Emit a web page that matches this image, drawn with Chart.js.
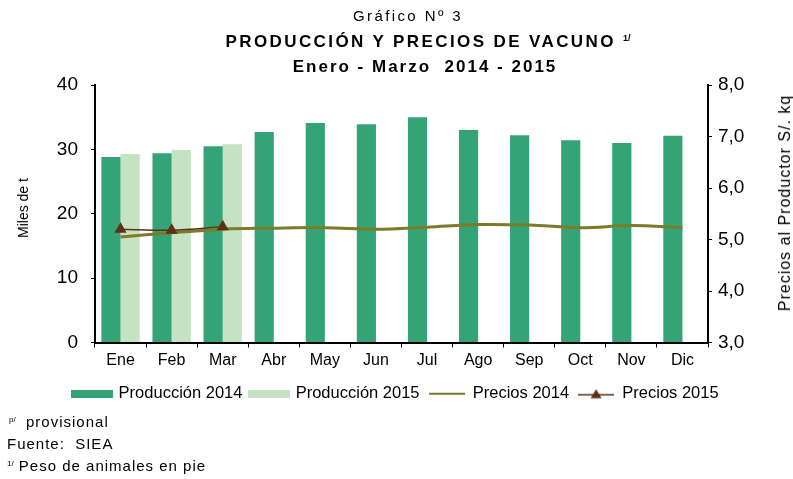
<!DOCTYPE html>
<html>
<head>
<meta charset="utf-8">
<script src="https://cdn.jsdelivr.net/npm/chart.js@4.4.1/dist/chart.umd.min.js"></script>
<style>
  body { margin: 0; background: #fff; font-family: "Liberation Sans", Arial, sans-serif; }
  #wrap { position: relative; width: 793px; height: 479px; overflow: hidden; }
  #chart { position: absolute; left: 0; top: 0; }
  .t { position: absolute; color: #000; white-space: nowrap; }
  .center { transform: translateX(-50%); }
  .note { font-size: 15px; letter-spacing: 1px; line-height: 17px; }
  sup { font-size: 8px; vertical-align: top; position: relative; top: -2px; letter-spacing: 0; }
</style>
</head>
<body>
<div id="wrap">
  <canvas id="chart" width="793" height="479"></canvas>
  <div class="t center" style="left:408px; top:8px; font-size:15px; line-height:15px; letter-spacing:2.4px;">Gráfico Nº 3</div>
  <div class="t center" style="left:428px; top:33px; font-size:17px; line-height:17px; font-weight:bold; letter-spacing:2.4px;">PRODUCCIÓN Y PRECIOS DE VACUNO&nbsp;<sup style="font-size:9px; top:-3px;">1/</sup></div>
  <div class="t center" style="left:425px; top:58px; font-size:17px; line-height:17px; font-weight:bold; letter-spacing:2px;">Enero - Marzo&nbsp; 2014 - 2015</div>
  <div class="t" style="left:23px; top:208px; font-size:14px; transform: translate(-50%, -50%) rotate(-90deg);">Miles de t</div>
  <div class="t" style="left:785px; top:203px; font-size:16px; letter-spacing:1px; transform: translate(-50%, -50%) rotate(-90deg);">Precios al Productor S/. kq</div>
  <div class="t note" style="left:9px; top:413px;"><sup>p/</sup>&nbsp; provisional</div>
  <div class="t note" style="left:7px; top:435px;">Fuente:&nbsp; SIEA</div>
  <div class="t note" style="left:7px; top:457px;"><sup>1/</sup> Peso de animales en pie</div>
</div>
<script>
const months = ['Ene', 'Feb', 'Mar', 'Abr', 'May', 'Jun', 'Jul', 'Ago', 'Sep', 'Oct', 'Nov', 'Dic'];
const produccion2014 = [28.8, 29.4, 30.5, 32.7, 34.1, 33.9, 35.0, 33.0, 32.2, 31.4, 31.0, 32.1];
const produccion2015 = [29.3, 29.9, 30.8, null, null, null, null, null, null, null, null, null];
const precios2014 = [5.05, 5.13, 5.20, 5.22, 5.23, 5.20, 5.24, 5.29, 5.28, 5.23, 5.27, 5.23];
const precios2015 = [5.20, 5.18, 5.25, null, null, null, null, null, null, null, null, null];

const green14 = '#34a477';
const green15 = '#c5e3c3';
const olive = '#7d7a2c';
const brown = '#5e3112';

// iconos de la leyenda
function icon(w, h, draw) {
    const c = document.createElement('canvas');
    c.width = w; c.height = h;
    draw(c.getContext('2d'));
    return c;
}
const rectIcon = (color) => icon(42, 8, (g) => { g.fillStyle = color; g.fillRect(0, 0, 42, 8); });
const lineIcon = icon(36, 4, (g) => { g.fillStyle = olive; g.fillRect(0, 1, 36, 2); });
const triIcon = icon(36, 12, (g) => {
    g.strokeStyle = brown; g.lineWidth = 1.5;
    g.beginPath(); g.moveTo(0, 7); g.lineTo(36, 7); g.stroke();
    g.fillStyle = brown;
    g.beginPath(); g.moveTo(18, 1.5); g.lineTo(23.5, 10.5); g.lineTo(12.5, 10.5); g.closePath(); g.fill();
});
const legendIcons = [rectIcon(green14), rectIcon(green15), lineIcon, triIcon];

const fontFam = '"Liberation Sans", Arial, sans-serif';

new Chart(document.getElementById('chart'), {
    type: 'bar',
    data: {
        labels: months,
        datasets: [
            { label: 'Producción 2014', data: produccion2014, backgroundColor: green14, yAxisID: 'y', order: 2 },
            { label: 'Producción 2015', data: produccion2015, backgroundColor: green15, yAxisID: 'y', order: 2 },
            {
                type: 'line', label: 'Precios 2014', data: precios2014, yAxisID: 'y1',
                borderColor: olive, borderWidth: 3, pointRadius: 0, tension: 0.35, order: 1
            },
            {
                type: 'line', label: 'Precios 2015', data: precios2015, yAxisID: 'y1',
                borderColor: brown, borderWidth: 1.5, pointStyle: 'triangle', pointRadius: 5.5,
                pointBackgroundColor: brown, pointBorderColor: brown, tension: 0.3, order: 0
            }
        ]
    },
    options: {
        responsive: false,
        animation: false,
        devicePixelRatio: 1,
        layout: { padding: { top: 85, bottom: 67, left: 0, right: 0 } },
        datasets: { bar: { categoryPercentage: 0.75, barPercentage: 1.0 } },
        scales: {
            x: {
                afterFit: (s) => { s.height = 34; },
                grid: { drawOnChartArea: false, color: '#000', tickLength: 5, offset: true },
                border: { color: '#000', width: 2 },
                ticks: { color: '#000', font: { family: fontFam, size: 16 }, padding: 3 }
            },
            y: {
                position: 'left', min: 0, max: 40,
                afterFit: (s) => { s.width = 95; },
                grid: { drawOnChartArea: false, color: '#000', tickLength: 4 },
                border: { color: '#000', width: 2 },
                ticks: { stepSize: 10, color: '#000', font: { family: fontFam, size: 19 }, padding: 13 }
            },
            y1: {
                position: 'right', min: 3, max: 8,
                afterFit: (s) => { s.width = 85; },
                grid: { drawOnChartArea: false, color: '#000', tickLength: 4 },
                border: { color: '#000', width: 2 },
                ticks: {
                    stepSize: 1, color: '#000', font: { family: fontFam, size: 19 }, padding: 6,
                    callback: (v) => v.toFixed(1).replace('.', ',')
                }
            }
        },
        plugins: {
            tooltip: { enabled: false },
            legend: {
                position: 'bottom',
                labels: {
                    color: '#000',
                    font: { family: fontFam, size: 16.5 },
                    usePointStyle: true,
                    pointStyleWidth: 36,
                    boxHeight: 8,
                    padding: 9,
                    generateLabels: (chart) => chart.data.datasets.map((ds, i) => ({
                        text: ds.label,
                        datasetIndex: i,
                        fillStyle: ds.type === 'line' ? ds.borderColor : ds.backgroundColor,
                        strokeStyle: ds.type === 'line' ? ds.borderColor : ds.backgroundColor,
                        lineWidth: 0,
                        pointStyle: legendIcons[i],
                        fontColor: '#000',
                        hidden: false
                    }))
                }
            }
        }
    }
});
</script>
</body>
</html>
